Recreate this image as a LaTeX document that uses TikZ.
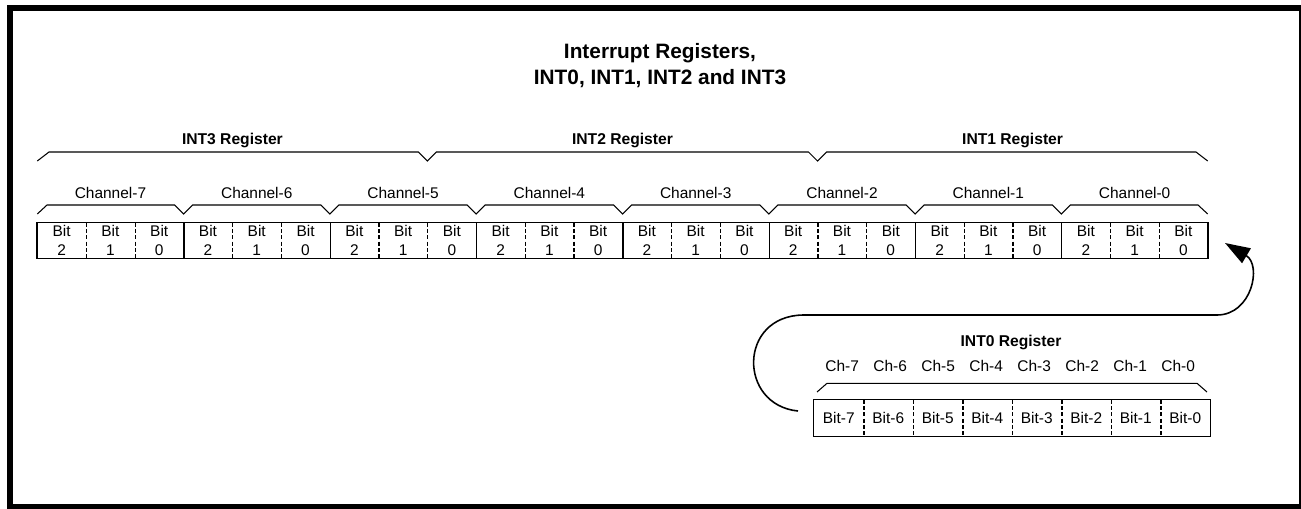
\documentclass[tikz,border=0pt]{standalone}
\usepackage{fontspec}
\setmainfont{Liberation Sans}
\usetikzlibrary{arrows.meta}
\tikzset{
  heading/.style={font=\fontsize{11.85}{14.5}\selectfont\bfseries, align=center, inner sep=0pt},
  reglabel/.style={font=\fontsize{8.9}{11}\selectfont\bfseries, inner sep=0pt},
  chanlabel/.style={font=\fontsize{8.8}{11}\selectfont, inner sep=0pt},
  bitcell/.style={font=\fontsize{8.8}{11}\selectfont, align=center, inner sep=0pt, minimum width=#1, minimum height=0.7cm},
  regline/.style={line width=0.75pt},
  bitdash/.style={line width=0.75pt, dash pattern=on 2.3pt off 1.3pt},
  brace/.style={line width=0.6pt, line join=miter},
}
\begin{document}
\begin{tikzpicture}[x=0.02cm, y=-0.02cm]
\useasboundingbox (0,0) rectangle (1301,508);
\draw[line width=0.12cm] (10,8) rectangle (1302,507);

\node[heading] (title) at (660,65.5) {Interrupt Registers,\\INT0, INT1, INT2 and INT3};

% INT3, INT2, INT1
\foreach \i in {0,...,23}{
  \pgfmathtruncatemacro{\k}{2-mod(\i,3)}
  \node[bitcell=0.9754cm] (c\i) at ({37.3+(\i+0.5)*48.77},240.5) {Bit\\\k};
}
\draw[regline] (c0.north west) rectangle (c23.south east);
\foreach \i in {0,...,22}{
  \pgfmathtruncatemacro{\m}{mod(\i+1,3)}
  \ifnum\m=0 \draw[regline] (c\i.north east) -- (c\i.south east);
  \else \draw[bitdash] (c\i.north east) -- (c\i.south east); \fi
}
\foreach \n [count=\j from 0] in {7,...,0}
  \node[chanlabel] (ch\n) at ({37.3+(\j+0.5)*146.31},192.5) {Channel-\n};
\draw[brace] (37.3,214) -- (47,205)
  \foreach \k in {1,...,7}{ -- ({37.3+\k*146.31-9},205) -- ({37.3+\k*146.31},214) -- ({37.3+\k*146.31+9},205)}
  -- (1198,205) -- (1207.7,214);
\draw[brace] (37.3,161) -- (49,152)
  \foreach \xb in {427.4,817.5}{ -- ({\xb-9},152) -- (\xb,161) -- ({\xb+9},152)}
  -- (1196,152) -- (1207.7,161);
\node[reglabel] (int3) at (232.4,140.6) {INT3 Register};
\node[reglabel] (int2) at (622.5,140.6) {INT2 Register};
\node[reglabel] (int1) at (1012.6,140.6) {INT1 Register};

% INT0
\foreach \n [count=\j from 0] in {7,...,0}{
  \node[bitcell=0.99cm, minimum height=0.72cm] (d\n) at ({814+(\j+0.5)*49.5},418) {Bit-\n};
  \node[chanlabel] (s\n) at ({1010.2+(\j-3.5)*48},366) {Ch-\n};
}
\draw[regline] (d7.north west) rectangle (d0.south east);
\foreach \n in {7,...,1}
  \draw[bitdash] (d\n.north east) -- (d\n.south east);
\draw[brace] (817,392) -- (827,383.3) -- (1197,383.3) -- (1207,392);
\node[reglabel] (int0) at (1011,342.6) {INT0 Register};

\coordinate (from) at (798,411);
\coordinate (to) at (1225,243);
\draw[line width=0.9pt, -{Triangle[length=0.5cm,width=0.34cm]}] (from)
  .. controls (738,405) and (738,316) .. (803,315) -- (1217,315)
  .. controls (1252,315) and (1262,265) .. (to);
\end{tikzpicture}
\end{document}
